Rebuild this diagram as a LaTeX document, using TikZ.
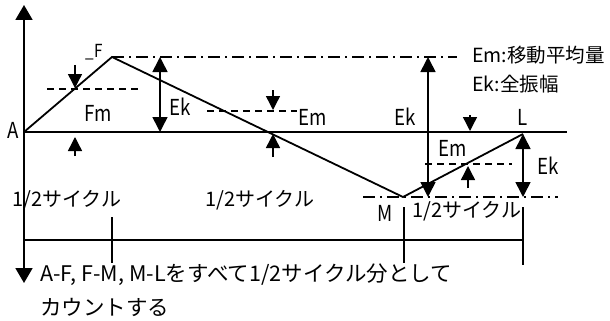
\documentclass[tikz,border=0pt]{standalone}
\usepackage{fontspec}
\setmainfont{Noto Sans CJK JP}
\usetikzlibrary{arrows.meta}
\begin{document}
\begin{tikzpicture}[x=1pt,y=-1pt,
  wave/.style={line width=1.8pt, line join=miter},
  axisline/.style={line width=1.8pt},
  dsh/.style={line width=1.4pt, dash pattern=on 7pt off 5pt},
  dshdot/.style={line width=1.4pt, dash pattern=on 12pt off 5pt on 2pt off 5pt},
  arr/.style={-{Triangle[width=14pt,length=14pt]}, line width=1.4pt},
  dbl/.style={{Triangle[width=15pt,length=15pt]}-{Triangle[width=15pt,length=15pt]}, line width=1.6pt},
  bigarr/.style={{Triangle[width=17pt,length=15pt]}-{Triangle[width=17pt,length=15pt]}, line width=1.8pt},
  lbl/.style={font=\fontsize{22}{22}\selectfont, inner sep=0pt, xscale=0.85},
  jlbl/.style={font=\fontsize{20}{20}\selectfont, inner sep=0pt, anchor=west},
  legend/.style={font=\fontsize{19.5}{19.5}\selectfont, inner sep=0pt, anchor=west},
  note/.style={font=\fontsize{21.5}{21.5}\selectfont, inner sep=0pt, anchor=west}
]
\useasboundingbox (0,0) rectangle (610,321);

% key points
\coordinate (A) at (24,132);
\coordinate (F) at (112,57);
\coordinate (M) at (403,197);
\coordinate (L) at (523,134);
\coordinate (axtop) at (24,5);
\coordinate (axbot) at (24,283);
\coordinate (baseR) at (567,132);

% axes
\draw[bigarr] (axbot) -- (axtop);
\draw[axisline] (A) -- (baseR);

% waveform
\draw[wave] (A) -- (F) -- (M) -- (L);

% reference lines
\draw[dshdot] (F) -- (457,57);
\draw[dshdot] (363,197) -- (558,197);
\draw[dsh] (47,89) -- (138,89);
\draw[dsh] (207,111) -- (297,111);
\draw[dsh] (425,164) -- (512,164);

% Em markers
\draw[arr] (75,65) -- (75,88);
\draw[arr] (75,156) -- (75,137);
\draw[arr] (273,90) -- (273,110);
\draw[arr] (273,157) -- (273,134);
\draw[arr] (470,115) -- (470,131);
\draw[arr] (468,188) -- (468,166);

% Ek arrows
\draw[dbl] (160,57) -- (160,132);
\draw[dbl] (428,57) -- (428,197);
\draw[dbl] (L) -- (523,197);

% labels
\node[lbl] (lA) at (13,130) {A};
\node[lbl, font=\fontsize{18}{18}\selectfont] (lF) at (94,52) {\_F};
\node[lbl] (lFm) at (98,113) {Fm};
\node[lbl] (lEk1) at (180,107) {Ek};
\node[lbl] (lEm2) at (313,117) {Em};
\node[lbl] (lEk2) at (405,117) {Ek};
\node[lbl] (lEm3) at (453,148) {Em};
\node[lbl] (lL) at (523,117) {L};
\node[lbl] (lEk3) at (548,166) {Ek};
\node[lbl] (lM) at (385,213) {M};

% legend
\node[legend] (leg1) at (472,55) {Em:移動平均量};
\node[legend] (leg2) at (472,84) {Ek:全振幅};

% half cycle labels
\node[jlbl] (h1) at (12,200) {1/2サイクル};
\node[jlbl] (h2) at (205,200) {1/2サイクル};
\node[jlbl] (h3) at (412,211) {1/2サイクル};

% bracket
\coordinate (bL) at (24,240);
\coordinate (bR) at (523,240);
\draw[axisline] (bL) -- (bR);
\draw[axisline] (112,217) -- (112,263);
\draw[axisline] (404,207) -- (404,263);
\draw[axisline] (523,207) -- (523,265);

% note
\node[note] (n1) at (40,275) {A-F, F-M, M-Lをすべて1/2サイクル分として};
\node[note] (n2) at (40,307) {カウントする};
\end{tikzpicture}
\end{document}
